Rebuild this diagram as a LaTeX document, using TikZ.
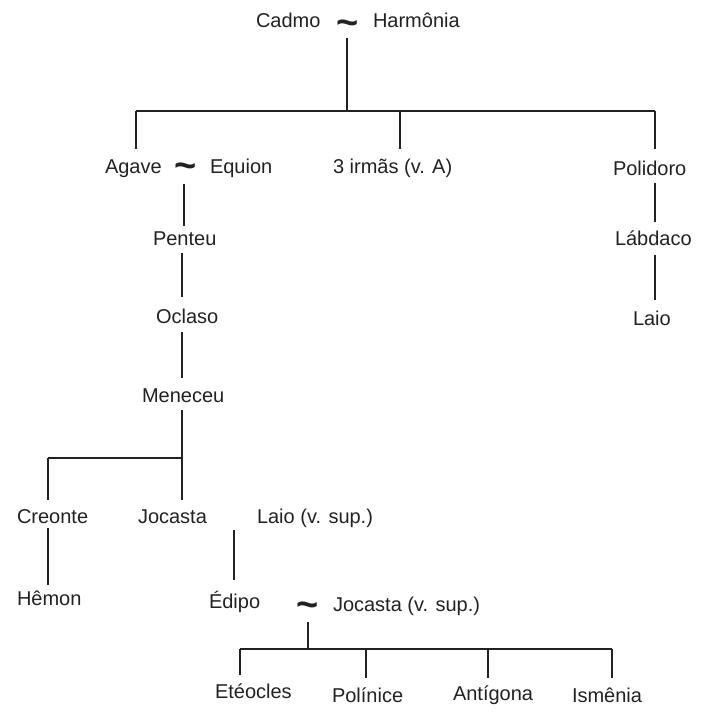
\documentclass[tikz,border=0pt]{standalone}
\usepackage{fontspec}
\setmainfont{Liberation Sans}
\definecolor{ink}{HTML}{222222}
\begin{document}
\begin{tikzpicture}[x=1pt,y=-1pt,
  nm/.style={anchor=base west,inner sep=0pt,outer sep=0pt,text=ink,font=\fontsize{20}{24}\selectfont},
  tl/.style={anchor=center,inner sep=0pt,outer sep=0pt,text=ink,font=\fontsize{38}{38}\selectfont\bfseries},
  ln/.style={draw=ink,line width=2pt}]
\useasboundingbox[fill=white] (0,0) rectangle (703,713);
% names
\node[nm] (cadmo) at (256,27) {Cadmo};
\node[tl] (t1) at (348,28) {\textasciitilde};
\node[nm] (harm) at (373,27) {Harmônia};
\node[nm] (agave) at (105,173) {Agave};
\node[tl] (t2) at (186,171) {\textasciitilde};
\node[nm] (equion) at (210,173) {Equion};
\node[nm] (irmas) at (333,173) {3 irmãs (v. A)};
\node[nm] (polidoro) at (613,175) {Polidoro};
\node[nm] (penteu) at (153,245) {Penteu};
\node[nm] (oclaso) at (156,323) {Oclaso};
\node[nm] (meneceu) at (142,402) {Meneceu};
\node[nm] (labdaco) at (615,245) {Lábdaco};
\node[nm] (laio) at (633,325) {Laio};
\node[nm] (creonte) at (17,523) {Creonte};
\node[nm] (jocasta) at (138,523) {Jocasta};
\node[nm] (laiosup) at (257,523) {Laio (v. sup.)};
\node[nm] (hemon) at (17,605) {Hêmon};
\node[nm] (edipo) at (209,608) {Édipo};
\node[tl] (t3) at (308,610) {\textasciitilde};
\node[nm] (jocsup) at (333,611) {Jocasta (v. sup.)};
\node[nm] (eteocles) at (215,698) {Etéocles};
\node[nm] (polinice) at (332,702) {Polínice};
\node[nm] (antigona) at (453,700) {Antígona};
\node[nm] (ismenia) at (572,702) {Ismênia};
% junction coordinates
\coordinate (t1b) at (347,38);
\coordinate (j1) at (347,111);
\coordinate (j1l) at (136,111);
\coordinate (j1m) at (400,111);
\coordinate (j1r) at (655,111);
\coordinate (agt) at (136,149);
\coordinate (irt) at (400,149);
\coordinate (pot) at (655,149);
\coordinate (t2b) at (184,184);
\coordinate (pet) at (184,226);
\coordinate (peb) at (182,253);
\coordinate (oct) at (182,297);
\coordinate (ocb) at (182,332);
\coordinate (met) at (182,378);
\coordinate (meb) at (182,410);
\coordinate (j2) at (182,458);
\coordinate (j2l) at (48,458);
\coordinate (jot) at (182,500);
\coordinate (crt) at (48,500);
\coordinate (crb) at (48,528);
\coordinate (het) at (48,585);
\coordinate (lsb) at (234,530);
\coordinate (edt) at (234,580);
\coordinate (pob) at (655,183);
\coordinate (lat) at (655,222);
\coordinate (lab) at (655,255);
\coordinate (lit) at (655,300);
\coordinate (t3b) at (308,622);
\coordinate (j3) at (308,649);
\coordinate (j3a) at (240,649);
\coordinate (j3b) at (366,649);
\coordinate (j3c) at (488,649);
\coordinate (j3d) at (612,649);
\coordinate (ett) at (240,675);
\coordinate (plt) at (366,678);
\coordinate (ant) at (488,678);
\coordinate (ist) at (612,678);
% connectors
\draw[ln] (t1b) -- (j1);
\draw[ln] (j1l) -- (j1r);
\draw[ln] (j1l) -- (agt);
\draw[ln] (j1m) -- (irt);
\draw[ln] (j1r) -- (pot);
\draw[ln] (t2b) -- (pet);
\draw[ln] (peb) -- (oct);
\draw[ln] (ocb) -- (met);
\draw[ln] (meb) -- (jot);
\draw[ln] (j2l) -- (j2);
\draw[ln] (j2l) -- (crt);
\draw[ln] (crb) -- (het);
\draw[ln] (lsb) -- (edt);
\draw[ln] (pob) -- (lat);
\draw[ln] (lab) -- (lit);
\draw[ln] (t3b) -- (j3);
\draw[ln] (j3a) -- (j3d);
\draw[ln] (j3a) -- (ett);
\draw[ln] (j3b) -- (plt);
\draw[ln] (j3c) -- (ant);
\draw[ln] (j3d) -- (ist);
\end{tikzpicture}
\end{document}
